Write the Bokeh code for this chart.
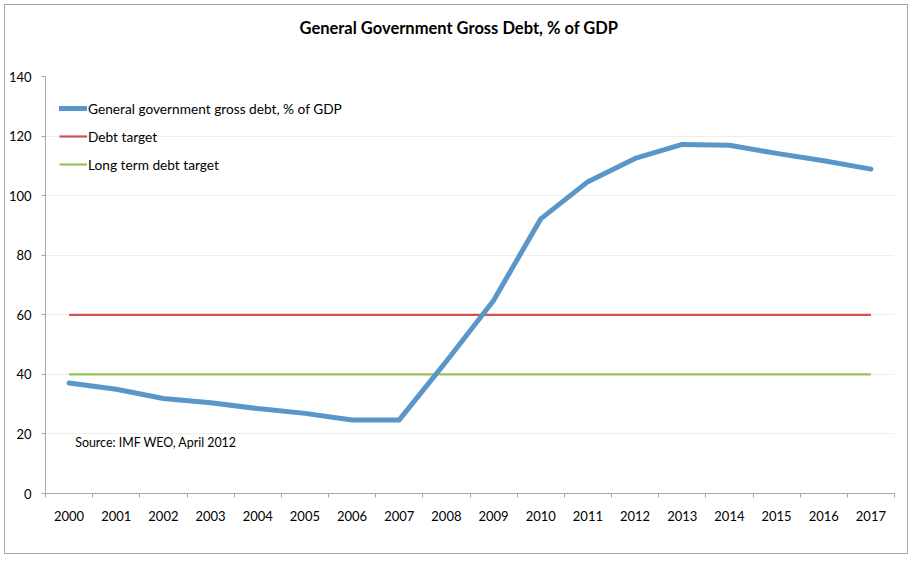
from bokeh.plotting import figure
from bokeh.models import FixedTicker, Label, Legend, LegendItem, Range1d, Title
from bokeh.embed import file_html
from bokeh.resources import INLINE

years = ["2000", "2001", "2002", "2003", "2004", "2005", "2006", "2007", "2008",
         "2009", "2010", "2011", "2012", "2013", "2014", "2015", "2016", "2017"]
gross_debt = [37.1, 35.0, 31.9, 30.5, 28.5, 26.9, 24.7, 24.7, 44.4,
              64.8, 92.2, 104.7, 112.5, 117.2, 116.9, 114.2, 111.7, 108.9]
debt_target = [60, 60, 60, 60, 60, 60, 60, 60, 60, 60, 60, 60, 60, 60, 60, 60, 60, 60]
long_term_target = [40, 40, 40, 40, 40, 40, 40, 40, 40, 40, 40, 40, 40, 40, 40, 40, 40, 40]
y_ticks = [0, 20, 40, 60, 80, 100, 120, 140]

title_text = "General Government Gross Debt, % of GDP"
source_text = "Source: IMF WEO, April 2012"
series_names = ["General government gross debt, % of GDP", "Debt target", "Long term debt target"]

FONT = "Lato"
xs = list(range(len(years)))
W, H = 904, 550

p = figure(width=W, height=H, output_backend="svg", toolbar_location=None,
           x_range=Range1d(-0.5, len(years) - 0.5), y_range=Range1d(0, 140),
           min_border_left=39, min_border_right=15, min_border_top=71, min_border_bottom=62)
p.styles = {"border": "1px solid #a6a6a6", "margin": "4px"}

# spacer between frame and title (closer to the frame than the main title)
p.add_layout(Title(text=" ", text_font_size="1px", standoff=34), "above")

p.title.text = title_text
p.title.align = "left"
p.title.vertical_align = "top"
p.title.text_font = FONT
p.title.text_font_size = "16.5px"
p.title.text_font_style = "bold"
p.title.text_color = "#000000"
p.title.standoff = 0
p.title.offset = 254

p.outline_line_color = None
p.background_fill_color = "white"
p.border_fill_color = "white"

# grid
p.xgrid.grid_line_color = None
p.ygrid.ticker = FixedTicker(ticks=y_ticks)
p.ygrid.grid_line_color = "#efeee8"
p.ygrid.grid_line_width = 1

# axes
p.yaxis.ticker = FixedTicker(ticks=y_ticks)
p.xaxis.ticker = FixedTicker(ticks=xs, minor_ticks=[i - 0.5 for i in range(len(years) + 1)])
p.xaxis.major_label_overrides = {i: y for i, y in enumerate(years)}
for ax in (p.xaxis, p.yaxis):
    ax.axis_line_color = "#a8a8a8"
    ax.major_tick_line_color = "#a8a8a8"
    ax.minor_tick_line_color = "#a8a8a8"
    ax.major_label_text_font = FONT
    ax.major_label_text_font_size = "13px"
    ax.major_label_text_color = "#000000"
    ax.major_tick_in = 0
    ax.minor_tick_in = 0
p.xaxis.major_tick_out = 0
p.xaxis.minor_tick_out = 4
p.xaxis.major_label_standoff = 13
p.yaxis.major_tick_out = 4
p.yaxis.minor_tick_out = 0
p.yaxis.major_label_standoff = 10

r_red = p.line(xs, debt_target, line_color="#cf5350", line_width=2.2)
r_green = p.line(xs, long_term_target, line_color="#9cc05d", line_width=2.2)
r_blue = p.line(xs, gross_debt, line_color="#5b96c9", line_width=5, line_join="round", line_cap="round")

src = Label(x=0.13, y=17.1, text=source_text, text_font=FONT, text_font_size="12.4px",
            text_color="#000000", text_baseline="middle")
p.add_layout(src)

legend = Legend(items=[LegendItem(label=series_names[0], renderers=[r_blue]),
                       LegendItem(label=series_names[1], renderers=[r_red]),
                       LegendItem(label=series_names[2], renderers=[r_green])],
                location=(14, 319), padding=0, margin=0, spacing=8,
                glyph_width=28, glyph_height=20, label_height=20, label_standoff=1,
                label_text_font=FONT, label_text_font_size="13.7px", label_text_color="#000000",
                border_line_alpha=0, background_fill_alpha=0)
p.add_layout(legend, "center")

open("out.html", "w").write(file_html(p, INLINE))
